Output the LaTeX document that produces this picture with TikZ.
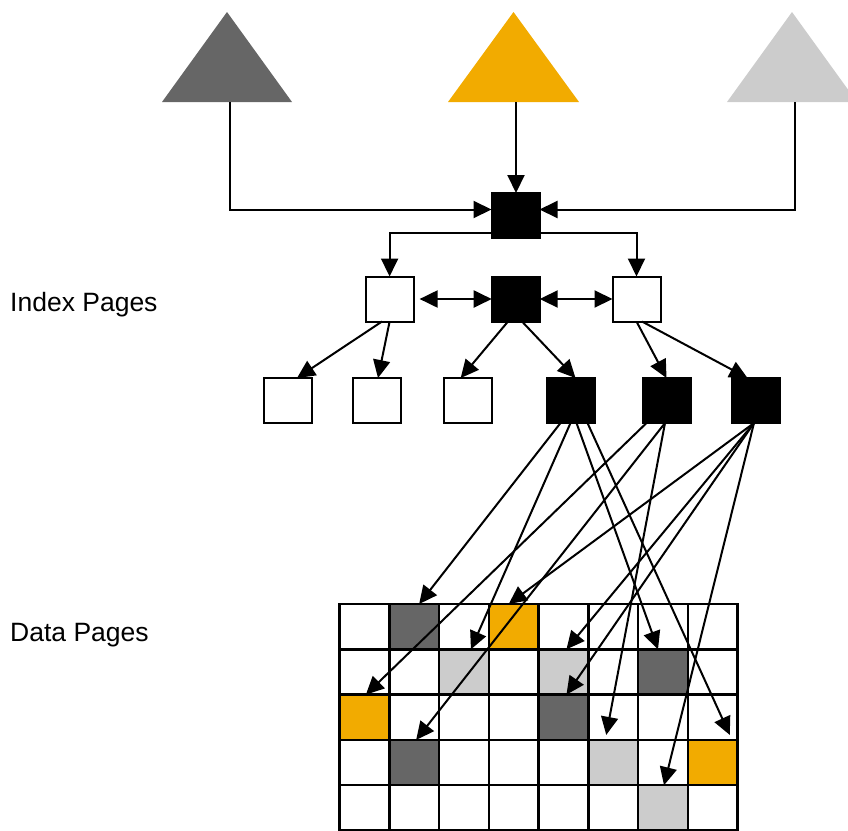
\documentclass[tikz,border=0pt]{standalone}
\usepackage{fontspec}
\setmainfont{Liberation Sans}
\usetikzlibrary{arrows.meta}
\definecolor{dgray}{HTML}{666666}
\definecolor{lgray}{HTML}{CCCCCC}
\definecolor{orng}{HTML}{F2AB00}
\begin{document}
\begin{tikzpicture}[x=1pt,y=-1pt,
  conn/.style={line width=2pt,-{Triangle[length=18pt,width=17pt]}},
  dconn/.style={line width=2pt,{Triangle[length=18pt,width=17pt]}-{Triangle[length=18pt,width=17pt]}},
  page/.style={draw,line width=2pt,minimum width=48pt,minimum height=45pt,inner sep=0pt,outer sep=0pt},
  wpage/.style={page,fill=white},
  bpage/.style={page,fill=black},
  cell/.style={draw,line width=2.5pt,minimum width=49.77pt,minimum height=45.3pt,inner sep=0pt,outer sep=0pt},
  lbl/.style={anchor=base west,inner sep=0pt,font=\fontsize{26.5}{30}\selectfont}]
\useasboundingbox (0,0) rectangle (848,830);
\clip (0,0) rectangle (848,830);
% source triangles
\fill[dgray] (162,102) -- (292,102) -- (227,12) -- cycle;
\fill[orng] (448,102) -- (579,102) -- (513.5,12) -- cycle;
\fill[lgray] (727,102) -- (857,102) -- (792,12) -- cycle;
\coordinate (t1) at (229.5,102);
\coordinate (t2) at (516,102);
\coordinate (t3) at (795,102);
% root
\node[bpage] (root) at (515.5,215.5) {};
% index pages
\node[wpage] (i1) at (389.6,299) {};
\node[bpage] (i2) at (515.7,299) {};
\node[wpage] (i3) at (636.5,299) {};
% leaf index pages
\node[wpage] (b1) at (287.7,400.5) {};
\node[wpage] (b2) at (377.4,400.5) {};
\node[wpage] (b3) at (467.7,400.5) {};
\node[bpage] (b4) at (570.5,400.5) {};
\node[bpage] (b5) at (666.5,400.5) {};
\node[bpage] (b6) at (755.5,400.5) {};
% labels
\node[lbl] (lidx) at (10,311) {Index Pages};
\node[lbl] (ldat) at (10,641) {Data Pages};
% grid of data pages
\foreach \r in {0,...,4}{
  \foreach \c in {0,...,7}{
    \node[cell,fill=white] (c\r\c) at ({339.5+49.77*\c+24.885},{604+45.3*\r+22.65}) {};
  }
}
\foreach \r/\c/\col in {0/1/dgray,0/3/orng,1/2/lgray,1/4/lgray,1/6/dgray,2/0/orng,2/4/dgray,3/1/dgray,3/5/lgray,3/7/orng,4/6/lgray}{
  \node[cell,fill=\col] (f\r\c) at (c\r\c) {};
}
% connectors top
\draw[conn] (t1) |- ([yshift=6pt]root.west);
\draw[conn] (t2) -- (t2 |- root.north);
\draw[conn] (t3) |- ([yshift=6pt]root.east);
\draw[conn] ([yshift=5pt]root.south west) -| (i1.north);
\draw[conn] ([yshift=5pt]root.south east) -| (i3.north);
\draw[dconn] ([xshift=6pt]i1.east) -- (i2.west);
\draw[dconn] (i2.east) -- (i3.west);
% index to leaf index
\draw[conn] ([xshift=-7.6pt]i1.south) -- ([xshift=9.3pt]b1.north);
\draw[conn] (i1.south) -- ([xshift=0.6pt]b2.north);
\draw[conn] ([xshift=-7.7pt]i2.south) -- ([xshift=-7pt]b3.north);
\draw[conn] ([xshift=6.3pt]i2.south) -- ([xshift=5pt]b4.north);
\draw[conn] (i3.south) -- (b5.north);
\draw[conn] ([xshift=5.5pt]i3.south) -- ([xshift=-8pt]b6.north);
% leaf index to data pages
\draw[conn] ([xshift=-10pt]b4.south) -- ([xshift=5pt]c01.north);
\draw[conn] ([xshift=-1.5pt]b6.south) -- ([xshift=-5pt]c03.north);
\draw[conn] (b4.south) -- ([xshift=7pt]c12.north);
\draw[conn] ([xshift=-1.5pt]b6.south) -- ([xshift=3pt]c14.north);
\draw[conn] ([xshift=6pt]b4.south) -- ([xshift=-5pt]c16.north);
\draw[conn] ([xshift=-20pt]b5.south) -- ([xshift=1.5pt]c20.north);
\draw[conn] ([xshift=-1.5pt]b6.south) -- ([xshift=3pt]c24.north);
\draw[conn] ([xshift=-1.5pt]b5.south) -- ([xshift=2pt]c31.north);
\draw[conn] ([xshift=-1.5pt]b5.south) -- ([xshift=-7pt,yshift=5pt]c35.north);
\draw[conn] ([xshift=17pt]b4.south) -- ([xshift=17pt,yshift=5pt]c37.north);
\draw[conn] ([xshift=-1.5pt]b6.south) -- ([xshift=1pt]c46.north);
\end{tikzpicture}
\end{document}
